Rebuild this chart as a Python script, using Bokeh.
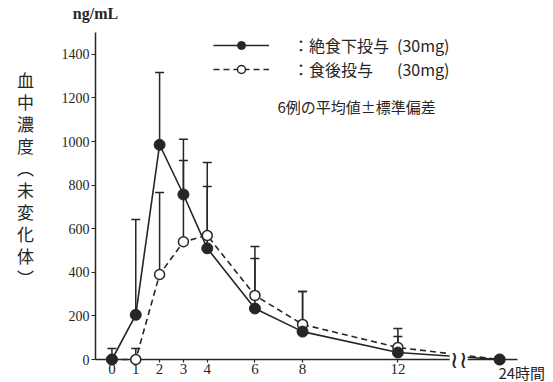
from bokeh.plotting import figure
from bokeh.models import (Range1d, Whisker, TeeHead, ColumnDataSource,
                          Legend, LegendItem, FixedTicker)
from bokeh.core.properties import value
from bokeh.embed import file_html
from bokeh.resources import INLINE

# ---- data ----
hours = [0, 1, 2, 3, 4, 6, 8, 12, 24]
fasting_mean = [0, 205, 985, 757, 510, 234, 128, 32, 0]
fasting_sd = [50, 437, 332, 156, 284, 229, 184, 73, 0]
fed_mean = [0, 0, 390, 540, 569, 294, 161, 55, 0]
fed_sd = [0, 50, 376, 470, 335, 224, 151, 87, 0]
x_tick_hours = [0, 1, 2, 3, 4, 6, 8, 12]
y_ticks = [0, 200, 400, 600, 800, 1000, 1200, 1400]
legend_labels = ["：絶食下投与\u2002(30mg)", "：食後投与\u3000\u2002(30mg)"]
note_text = "6例の平均値±標準偏差"
y_title = "血\n中\n濃\n度\n︵\n未\n変\n化\n体\n︶"
unit_text = "ng/mL"
last_label = "24時間"

# broken axis: hours after 12 are compressed
BREAK_AT = 12.0
POS_24 = 16.27
BREAK_MARK = 14.55


def axis_pos(h):
    return h if h <= BREAK_AT else BREAK_AT + (h - BREAK_AT) * (POS_24 - BREAK_AT) / (24 - BREAK_AT)


xs = [axis_pos(h) for h in hours]
INK = "#262626"

p = figure(width=553, height=382, x_range=Range1d(-0.69, 17.02), y_range=Range1d(0, 1500),
           output_backend="svg", toolbar_location=None,
           min_border_left=95, min_border_right=36, min_border_top=32, min_border_bottom=23)
p.outline_line_color = None
p.grid.visible = False
p.background_fill_color = "white"

p.xaxis.ticker = FixedTicker(ticks=x_tick_hours)
p.yaxis.ticker = FixedTicker(ticks=y_ticks)
p.xaxis.minor_tick_line_color = None
p.yaxis.minor_tick_line_color = None
for ax in (p.xaxis, p.yaxis):
    ax.axis_line_color = INK
    ax.axis_line_width = 1.5
    ax.major_tick_line_color = INK
    ax.major_tick_line_width = 1.2
    ax.major_label_text_font = "Liberation Serif"
    ax.major_label_text_color = INK
p.xaxis.major_tick_out = 3
p.xaxis.major_tick_in = 0
p.xaxis.major_label_standoff = 1
p.xaxis.major_label_text_font_size = "15px"
p.yaxis.major_tick_out = 4
p.yaxis.major_tick_in = 0
p.yaxis.major_label_standoff = 2
p.yaxis.major_label_text_font_size = "14px"


def err_source(mean, sd):
    idx = [i for i, s in enumerate(sd) if s > 0]
    return ColumnDataSource(dict(x=[xs[i] for i in idx],
                                 lower=[mean[i] for i in idx],
                                 upper=[mean[i] + sd[i] for i in idx]))


for mean, sd in ((fasting_mean, fasting_sd), (fed_mean, fed_sd)):
    w = Whisker(base="x", lower="lower", upper="upper", dimension="height",
                source=err_source(mean, sd), lower_head=None,
                upper_head=TeeHead(size=9, line_color=INK, line_width=1.5),
                line_color=INK, line_width=1.5, level="underlay")
    p.add_layout(w)

src_fast = ColumnDataSource(dict(x=xs, y=fasting_mean))
src_fed = ColumnDataSource(dict(x=xs, y=fed_mean))

fed_line = p.line("x", "y", source=src_fed, line_color=INK, line_width=1.6,
                  line_dash="6 4", level="annotation")
fast_line = p.line("x", "y", source=src_fast, line_color=INK, line_width=1.6,
                   level="annotation")
fed_pts = p.scatter("x", "y", source=src_fed, marker="circle", size=10,
                    fill_color="white", line_color=INK, line_width=1.5, level="annotation")
fast_pts = p.scatter("x", "y", source=src_fast, marker="circle", size=11,
                     fill_color=INK, line_color=INK, level="annotation")

legend = Legend(items=[LegendItem(label=legend_labels[0], renderers=[fast_line, fast_pts]),
                       LegendItem(label=legend_labels[1], renderers=[fed_line, fed_pts])],
                location=(118, 278), glyph_width=56, glyph_height=20, label_height=20,
                label_standoff=24, spacing=0, padding=0, margin=0,
                border_line_color=None, background_fill_alpha=0,
                label_text_font="Noto Sans CJK JP", label_text_font_size="16px",
                label_text_color=INK)
p.add_layout(legend)

# texts (drawn as glyphs so those outside the frame are not clipped)
p.text(x=[6.95], y=[1160], text=[note_text], text_font=value("Noto Sans CJK JP"),
       text_font_size="15px", text_baseline="middle", text_align="left",
       text_color=INK, level="overlay")
p.text(x=[-0.69], y=[1587], text=[unit_text], text_font=value("Liberation Serif"),
       text_font_size="16px", text_font_style="bold", text_align="center",
       text_baseline="middle", text_color=INK, level="overlay")
p.text(x=[-3.63], y=[1343], text=[y_title], text_font=value("Noto Sans CJK JP"),
       text_font_size="17px", text_line_height=0.88, text_align="center",
       text_baseline="top", text_color=INK, level="overlay")
p.text(x=[POS_24 - 0.05], y=[-60], text=[last_label], text_font=value("Noto Sans CJK JP"),
       text_font_size="15px", text_align="left", text_baseline="middle",
       text_color=INK, level="overlay")
p.text(x=[BREAK_MARK], y=[0], text=["≀≀"], text_font=value("DejaVu Sans"),
       text_font_size="24px", text_align="center", text_baseline="middle",
       background_fill_color="white", text_color=INK, level="overlay")

open("out.html", "w").write(file_html(p, INLINE))
